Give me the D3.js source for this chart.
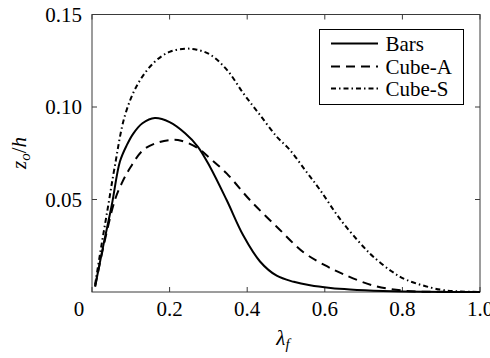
<!DOCTYPE html>
<html>
<head>
<meta charset="utf-8">
<script src="https://cdn.jsdelivr.net/npm/d3@7"></script>
</head>
<body style="margin:0">
<svg id="s" width="490" height="358"></svg>
<script>
// ---- data ----
const xTicks = [0, 0.2, 0.4, 0.6, 0.8, 1.0];
const xTickLabels = ["0", "0.2", "0.4", "0.6", "0.8", "1.0"];
const yTicks = [0.05, 0.10, 0.15];
const yTickLabels = ["0.05", "0.10", "0.15"];

const seriesNames = ["Bars", "Cube-A", "Cube-S"];

const barsX = [0.008, 0.03, 0.051, 0.072, 0.09, 0.106, 0.13, 0.162, 0.2, 0.24, 0.273, 0.304, 0.347, 0.39, 0.433, 0.476, 0.52, 0.562, 0.615, 0.665, 0.75, 0.85, 1.0];
const barsY = [0.003, 0.026, 0.047, 0.0705, 0.0795, 0.0855, 0.0912, 0.094, 0.0918, 0.0858, 0.0785, 0.0677, 0.0497, 0.0305, 0.0165, 0.0088, 0.0055, 0.0036, 0.0022, 0.0014, 0.0006, 0.0001, 0];

const cubeAX = [0.008, 0.03, 0.059, 0.0765, 0.098, 0.132, 0.17, 0.204, 0.23, 0.273, 0.304, 0.347, 0.407, 0.476, 0.545, 0.6, 0.648, 0.725, 0.81, 0.9, 1.0];
const cubeAY = [0.003, 0.025, 0.0497, 0.0587, 0.067, 0.0768, 0.0808, 0.0822, 0.0818, 0.0777, 0.0723, 0.0641, 0.0497, 0.0353, 0.0215, 0.0145, 0.0096, 0.0035, 0.0006, 0.0001, 0];

const cubeSX = [0.008, 0.025, 0.042, 0.058, 0.085, 0.119, 0.162, 0.2, 0.239, 0.27, 0.307, 0.35, 0.39, 0.43, 0.476, 0.51, 0.55, 0.588, 0.639, 0.7, 0.725, 0.77, 0.811, 0.897, 0.95, 1.0];
const cubeSY = [0.004, 0.026, 0.047, 0.067, 0.0955, 0.1128, 0.1245, 0.1298, 0.1315, 0.131, 0.128, 0.1195, 0.1074, 0.0965, 0.084, 0.0768, 0.0657, 0.0551, 0.0395, 0.0243, 0.0191, 0.0115, 0.0065, 0.0013, 0.0003, 0];

// ---- layout ----
const svg = d3.select("#s");
const L = 92, R = 480, T = 14.5, B = 292;
const fs = 21;
const axisColor = "#3a3a3a";

function serifText(sel) {
  return sel.attr("font-size", fs).style("font-family", '"Times New Roman", "Liberation Serif", Times, serif');
}

const x = d3.scaleLinear().domain([0, 1]).range([L, R]);
const y = d3.scaleLinear().domain([0, 0.15]).range([B, T]);

const series = [
  { name: seriesNames[0], xs: barsX, ys: barsY, dash: null },
  { name: seriesNames[1], xs: cubeAX, ys: cubeAY, dash: "9,6" },
  { name: seriesNames[2], xs: cubeSX, ys: cubeSY, dash: "5,3,1.5,3" }
];

// frame
svg.append("rect").attr("x", L).attr("y", T).attr("width", R - L).attr("height", B - T)
  .attr("fill", "none").attr("stroke", axisColor).attr("stroke-width", 1);

// tick marks (inward, all four sides)
svg.append("g").selectAll("line").data(xTicks).join("line")
  .attr("x1", d => x(d)).attr("x2", d => x(d)).attr("y1", B).attr("y2", B - 5).attr("stroke", axisColor);
svg.append("g").selectAll("line").data(xTicks).join("line")
  .attr("x1", d => x(d)).attr("x2", d => x(d)).attr("y1", T).attr("y2", T + 5).attr("stroke", axisColor);
svg.append("g").selectAll("line").data(yTicks).join("line")
  .attr("x1", L).attr("x2", L + 5).attr("y1", d => y(d)).attr("y2", d => y(d)).attr("stroke", axisColor);
svg.append("g").selectAll("line").data(yTicks).join("line")
  .attr("x1", R).attr("x2", R - 5).attr("y1", d => y(d)).attr("y2", d => y(d)).attr("stroke", axisColor);

// tick labels
xTicks.forEach((d, i) => {
  serifText(svg.append("text").attr("x", x(d) + (i === 0 ? -13 : 0)).attr("y", B + 24)
    .attr("text-anchor", "middle").text(xTickLabels[i]));
});
yTicks.forEach((d, i) => {
  serifText(svg.append("text").attr("x", L - 10).attr("y", y(d) + 7)
    .attr("text-anchor", "end").text(yTickLabels[i]));
});

// lines
const line = d3.line().x(d => x(d[0])).y(d => y(Math.max(0, d[1]))).curve(d3.curveCatmullRom.alpha(0.5));
series.forEach(s => {
  const pts = s.xs.map((v, i) => [v, s.ys[i]]);
  svg.append("path").datum(pts).attr("d", line)
    .attr("fill", "none").attr("stroke", "#000").attr("stroke-width", 2)
    .attr("stroke-dasharray", s.dash);
});

// legend
svg.append("rect").attr("x", 319.5).attr("y", 29.5).attr("width", 144).attr("height", 75)
  .attr("fill", "#fff").attr("stroke", "#000").attr("stroke-width", 1);
const rowY = [43.5, 66.5, 88.5];
series.forEach((s, i) => {
  svg.append("line").attr("x1", 331).attr("x2", 378).attr("y1", rowY[i]).attr("y2", rowY[i])
    .attr("stroke", "#000").attr("stroke-width", 2).attr("stroke-dasharray", s.dash);
  serifText(svg.append("text").attr("x", 385.5).attr("y", rowY[i] + 7).text(s.name));
});

// axis labels
const yl = serifText(svg.append("text").attr("transform", "translate(26,153) rotate(-90)")
  .attr("text-anchor", "middle"));
yl.append("tspan").style("font-style", "italic").text("z");
yl.append("tspan").style("font-style", "italic").attr("font-size", 15).attr("dy", 4).text("o");
yl.append("tspan").attr("dy", -4).text("/");
yl.append("tspan").style("font-style", "italic").text("h");

const xl = serifText(svg.append("text").attr("x", 283).attr("y", 345).attr("text-anchor", "middle"));
xl.append("tspan").style("font-style", "italic").text("λ");
xl.append("tspan").style("font-style", "italic").attr("font-size", 15).attr("dy", 4).text("f");
</script>
</body>
</html>
